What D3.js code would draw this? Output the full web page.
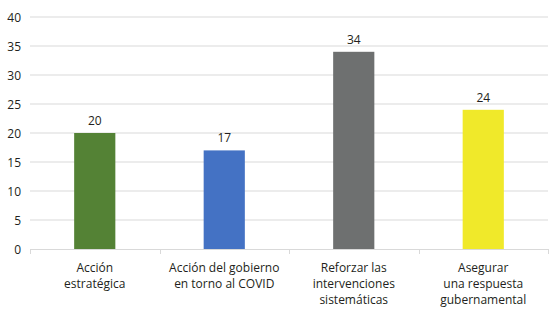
<!DOCTYPE html>
<html><head><meta charset="utf-8">
<script src="https://cdn.jsdelivr.net/npm/d3@7"></script>
<style>body{margin:0;background:#fff}svg{display:block}</style>
</head><body><svg id="c" width="560" height="315"></svg>
<script>
const categories = [
  ["Acción", "estratégica"],
  ["Acción del gobierno", "en torno al COVID"],
  ["Reforzar las", "intervenciones", "sistemáticas"],
  ["Asegurar", "una respuesta", "gubernamental"]
];
const values = [20, 17, 34, 24];
const colors = ["#548235", "#4472c4", "#6e7070", "#f0e92a"];
const yTicks = [0, 5, 10, 15, 20, 25, 30, 35, 40];

(function () {
const svg = d3.select("#c");
const font = "'Open Sans', sans-serif";
const mLeft = 30, mRight = 548, mTop = 17, mBottom = 249;
const x = d3.scaleBand().domain(d3.range(values.length)).range([mLeft, mRight]).padding(0);
const y = d3.scaleLinear().domain([0, 40]).range([mBottom, mTop]);
const barW = x.bandwidth() * 0.318;

// grid
svg.append("g").selectAll("line").data(yTicks.filter(t => t > 0)).join("line")
  .attr("x1", mLeft).attr("x2", mRight)
  .attr("y1", d => y(d)).attr("y2", d => y(d))
  .attr("stroke", "#d9d9d9").attr("stroke-width", 1);

// y labels
svg.append("g").selectAll("text").data(yTicks).join("text")
  .attr("x", 21).attr("y", d => y(d) + 4.5)
  .attr("text-anchor", "end").attr("font-family", font).attr("font-size", 12)
  .attr("fill", "#231f20").text(d => d);

// bars
svg.append("g").selectAll("rect").data(values).join("rect")
  .attr("x", (d, i) => x(i) + x.bandwidth() / 2 - barW / 2)
  .attr("width", barW)
  .attr("y", d => y(d)).attr("height", d => y(0) - y(d))
  .attr("fill", (d, i) => colors[i]);

// value labels
svg.append("g").selectAll("text").data(values).join("text")
  .attr("x", (d, i) => x(i) + x.bandwidth() / 2)
  .attr("y", d => y(d) - 8)
  .attr("text-anchor", "middle").attr("font-family", font).attr("font-size", 12)
  .attr("fill", "#231f20").text(d => d);

// x axis
svg.append("line").attr("x1", mLeft).attr("x2", mRight)
  .attr("y1", mBottom + 0.5).attr("y2", mBottom + 0.5).attr("stroke", "#d9d9d9");
const bounds = d3.range(values.length + 1).map(i => i < values.length ? x(i) : mRight);
svg.append("g").selectAll("line").data(bounds).join("line")
  .attr("x1", d => Math.round(d) + 0.5).attr("x2", d => Math.round(d) + 0.5)
  .attr("y1", mBottom).attr("y2", mBottom + 5).attr("stroke", "#d9d9d9");

// category labels
const cat = svg.append("g").selectAll("text").data(categories).join("text")
  .attr("text-anchor", "middle").attr("font-family", font).attr("font-size", 12)
  .attr("fill", "#231f20");
cat.each(function (lines, i) {
  d3.select(this).selectAll("tspan").data(lines).join("tspan")
    .attr("x", x(i) + x.bandwidth() / 2)
    .attr("y", (d, j) => 272 + j * 16)
    .text(d => d);
});
})();
</script></body></html>
